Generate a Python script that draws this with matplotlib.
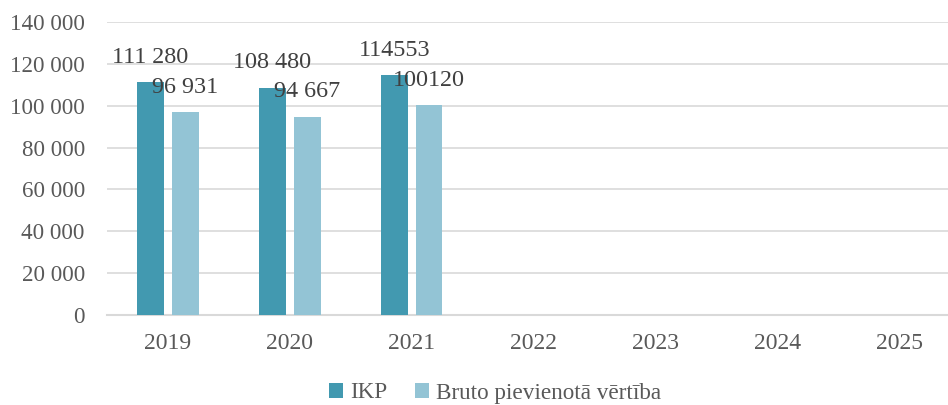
import matplotlib.pyplot as plt
import numpy as np

years = ["2019", "2020", "2021", "2022", "2023", "2024", "2025"]
ikp = [111280, 108480, 114553]
bpv = [96931, 94667, 100120]
ikp_labels = ["111 280", "108 480", "114553"]
bpv_labels = ["96 931", "94 667", "100120"]
series_names = ["IKP", "Bruto pievienotā vērtība"]

plt.rcParams['font.family'] = ['Liberation Serif', 'DejaVu Serif']
text_col = '#595959'

fig = plt.figure(figsize=(9.48, 4.05), dpi=100)
ax = fig.add_axes([107 / 948, 90 / 405, 853 / 948, 293 / 405])

x = np.arange(len(years))
w = 0.22
off = 0.143
b1 = ax.bar(x[:len(ikp)] - off, ikp, w, color='#4299B0', label=series_names[0], zorder=3)
b2 = ax.bar(x[:len(bpv)] + off, bpv, w, color='#93C4D5', label=series_names[1], zorder=3)

for xi, v, t in zip(x, ikp, ikp_labels):
    ax.annotate(t, (xi - off, v), xytext=(0, 18), textcoords='offset points',
                ha='center', va='center', fontsize=17.4, color='#404040', zorder=4)
for xi, v, t in zip(x, bpv, bpv_labels):
    ax.annotate(t, (xi + off, v), xytext=(0, 18), textcoords='offset points',
                ha='center', va='center', fontsize=17.4, color='#404040', zorder=4)

ax.set_xlim(-0.5, len(years) - 0.5)
ax.set_ylim(0, 140000)
ax.set_yticks(np.arange(0, 140001, 20000))
ax.set_yticklabels([f"{v:,}".replace(",", " ") for v in range(0, 140001, 20000)])
ax.set_xticks(x)
ax.set_xticklabels(years)
ax.tick_params(axis='both', length=0, colors=text_col)
ax.tick_params(axis='x', pad=13, labelsize=17)
ax.tick_params(axis='y', pad=16, labelsize=16.6)

ax.grid(axis='y', color='#D9D9D9', linewidth=1.2, zorder=0)
for s in ['top', 'right', 'left']:
    ax.spines[s].set_visible(False)
ax.spines['bottom'].set_color('#D9D9D9')
ax.spines['bottom'].set_linewidth(1.5)

fig.legend(handles=[b1, b2], loc='center', bbox_to_anchor=(495 / 948, 1 - 393 / 405),
           ncol=2, frameon=False, fontsize=16.7, labelcolor=text_col,
           handlelength=0.6, handleheight=0.6, handletextpad=0.3, columnspacing=1.2)

fig.savefig('out.png', dpi=100)
